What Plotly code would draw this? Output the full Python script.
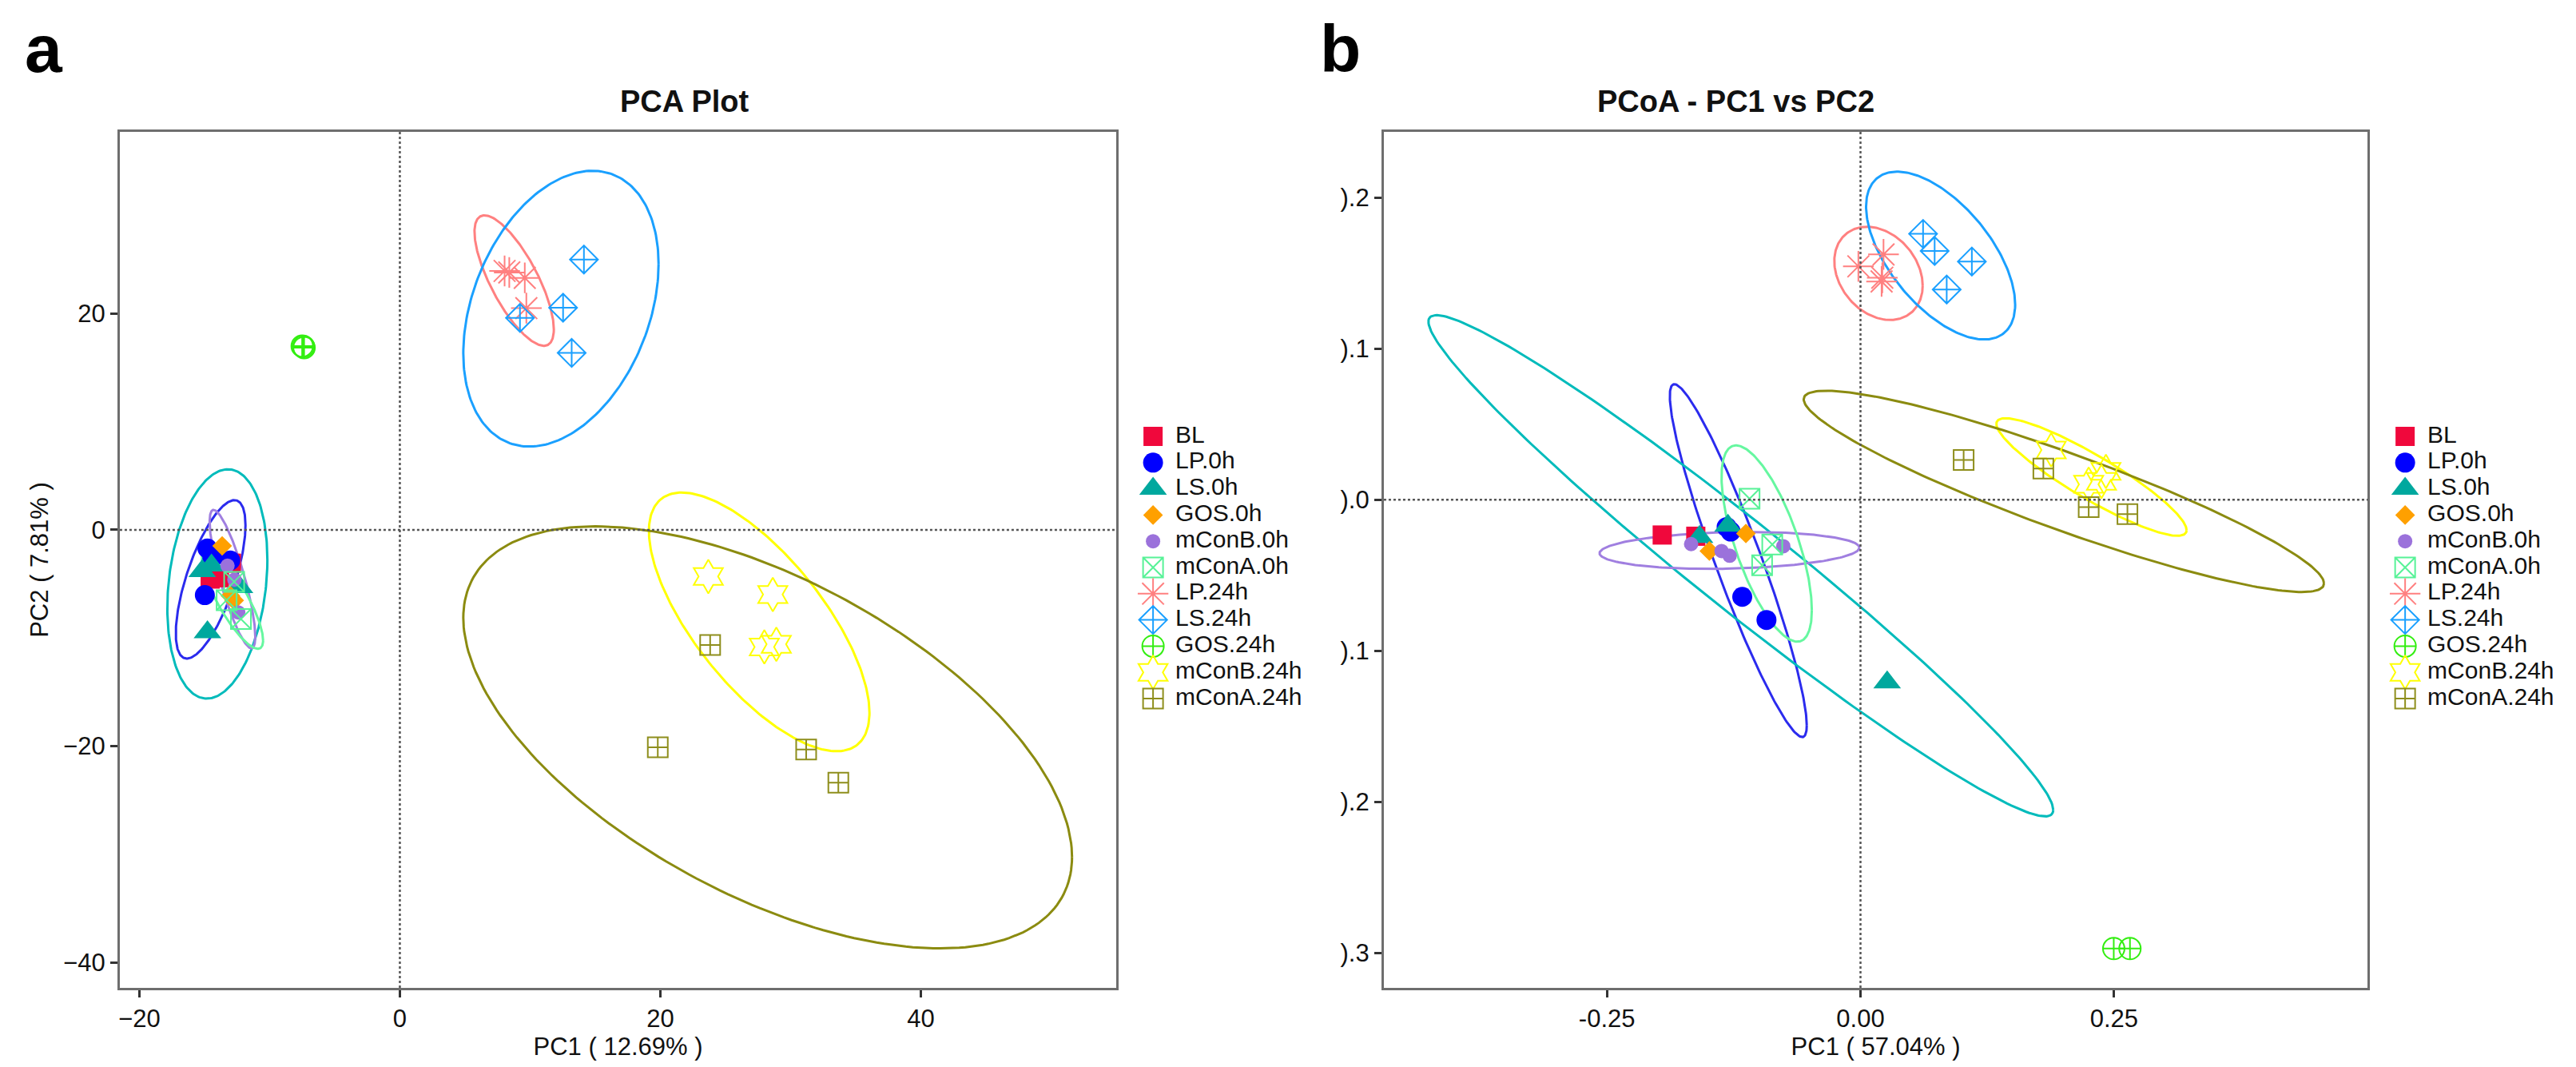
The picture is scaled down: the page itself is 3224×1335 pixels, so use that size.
import numpy as np
import plotly.graph_objects as go

groups = ["BL", "LP.0h", "LS.0h", "GOS.0h", "mConB.0h", "mConA.0h",
          "LP.24h", "LS.24h", "GOS.24h", "mConB.24h", "mConA.24h"]

colors = ["#F0083C", "#0000FF", "#00A89E", "#FFA000", "#9B72DB", "#57F297",
          "#FF8080", "#1AA0FF", "#33EE11", "#FFFF00", "#8E8E1C"]
ell_colors = ["#F0083C", "#2B2BEE", "#00BBBB", "#FFA000", "#A07FE0", "#66F7A0",
              "#FF8080", "#1AA0FF", "#33EE11", "#FFFF00", "#8B8B10"]
symbols = ["square", "circle", "triangle-up", "diamond", "circle", "square-x-open",
           "asterisk-open", "diamond-cross-open", "circle-cross-open",
           "hexagram-open", "square-cross-open"]
msizes = [24, 25, 30, 19, 18, 25, 32, 27, 27, 32, 25]

# PCA (panel a) sample scores
pca_x = {
    "BL": [-14.56, -12.93, -13.85],
    "LP.0h": [-14.77, -14.97, -13.02, -14.4],
    "LS.0h": [-14.77, -15.17, -14.46, -12.31],
    "GOS.0h": [-13.64, -12.72, -13.0],
    "mConB.0h": [-13.23, -12.41, -12.7],
    "mConA.0h": [-12.72, -12.2, -13.3],
    "LP.24h": [8.04, 8.4, 9.59, 9.71],
    "LS.24h": [14.13, 12.53, 9.22, 13.19],
    "GOS.24h": [-7.5, -7.35, -7.4],
    "mConB.24h": [23.68, 28.63, 27.98, 28.9],
    "mConA.24h": [23.82, 19.8, 31.19, 33.66],
}
pca_y = {
    "BL": [-4.55, -3.08, -4.43],
    "LP.0h": [-1.72, -6.03, -2.83, -2.6],
    "LS.0h": [-9.47, -3.81, -3.3, -5.29],
    "GOS.0h": [-1.48, -6.52, -6.1],
    "mConB.0h": [-3.32, -7.63, -4.6],
    "mConA.0h": [-4.8, -8.24, -6.5],
    "LP.24h": [23.94, 23.8, 23.3, 20.5],
    "LS.24h": [25.0, 20.54, 19.6, 16.36],
    "GOS.24h": [17.0, 16.85, 16.95],
    "mConB.24h": [-4.31, -5.98, -10.83, -10.58],
    "mConA.24h": [-10.65, -20.1, -20.3, -23.37],
}

# PCoA (panel b) sample scores
pcoa_x = {
    "BL": [-0.1955, -0.1624],
    "LP.0h": [-0.132, -0.1166, -0.0927, -0.128],
    "LS.0h": [-0.1587, -0.1307, 0.0263],
    "GOS.0h": [-0.113, -0.149],
    "mConB.0h": [-0.167, -0.137, -0.129, -0.0761],
    "mConA.0h": [-0.1094, -0.087, -0.097],
    "LP.24h": [-0.0021, 0.0227, 0.0208, 0.0215],
    "LS.24h": [0.0617, 0.0731, 0.1098, 0.085],
    "GOS.24h": [0.2497, 0.2657],
    "mConB.24h": [0.188, 0.225, 0.2376, 0.242],
    "mConA.24h": [0.1017, 0.1803, 0.225, 0.2632],
}
pcoa_y = {
    "BL": [-0.0233, -0.0241],
    "LP.0h": [-0.018, -0.0642, -0.0795, -0.021],
    "LS.0h": [-0.0245, -0.0171, -0.1208],
    "GOS.0h": [-0.0223, -0.0339],
    "mConB.0h": [-0.0293, -0.0339, -0.037, -0.0307],
    "mConA.0h": [0.0007, -0.0296, -0.0433],
    "LP.24h": [0.1545, 0.1624, 0.1445, 0.147],
    "LS.24h": [0.176, 0.1647, 0.1577, 0.1392],
    "GOS.24h": [-0.297, -0.297],
    "mConB.24h": [0.033, 0.0103, 0.0122, 0.0188],
    "mConA.24h": [0.0264, 0.0207, -0.0048, -0.0095],
}

# confidence ellipses: xmin, xmax, ymin, ymax, x at top point
pca_ell = {
    "LP.0h": [-17.2, -11.85, -11.9, 2.75, -12.7],
    "LS.0h": [-17.85, -10.17, -15.6, 5.6, -13.2],
    "mConB.0h": [-14.6, -11.1, -10.95, 1.85, -14.3],
    "mConA.0h": [-15.2, -10.5, -11.0, -1.85, -14.8],
    "LP.24h": [5.73, 11.82, 17.02, 29.08, 6.5],
    "LS.24h": [4.87, 19.86, 7.7, 33.2, 14.79],
    "mConB.24h": [19.12, 36.05, -20.47, 3.45, 21.64],
    "mConA.24h": [4.87, 51.6, -38.7, 0.32, 15.0],
}
pcoa_ell = {
    "LP.0h": [-0.188, -0.053, -0.157, 0.0765, -0.1835],
    "LS.0h": [-0.426, 0.19, -0.2095, 0.1222, -0.418],
    "mConB.0h": [-0.2573, -0.0011, -0.0457, -0.0213, -0.11],
    "mConA.0h": [-0.137, -0.048, -0.0939, 0.036, -0.1227],
    "LP.24h": [-0.0258, 0.0613, 0.119, 0.1807, 0.0063],
    "LS.24h": [0.0055, 0.1525, 0.1061, 0.2172, 0.0361],
    "mConB.24h": [0.134, 0.3215, -0.0238, 0.054, 0.143],
    "mConA.24h": [-0.056, 0.457, -0.061, 0.0722, -0.034],
}

pca_xticks = [-20, 0, 20, 40]
pca_yticks = [-40, -20, 0, 20]
pcoa_xticks = [-0.25, 0.0, 0.25]
pcoa_xlabels = ["-0.25", "0.00", "0.25"]
pcoa_yticks = [-0.3, -0.2, -0.1, 0.0, 0.1, 0.2]
pcoa_ylabels = [").3", ").2", ").1", ").0", ").1", ").2"]   # left part cut off in the source


def ellipse_path(xmin, xmax, ymin, ymax, xtop, n=241):
    cx, ax = (xmin + xmax) / 2, (xmax - xmin) / 2
    cy, ay = (ymin + ymax) / 2, (ymax - ymin) / 2
    phi = np.arccos(np.clip((xtop - cx) / ax, -1, 1))
    t = np.linspace(0, 2 * np.pi, n)
    return cx + ax * np.cos(t), cy + ay * np.cos(t - phi)


def marker(i):
    is_open = symbols[i].endswith("-open")
    return dict(symbol=symbols[i], size=msizes[i], color=colors[i],
                line=dict(color=colors[i], width=2 if is_open else 0))


W, H = 3224, 1335
FONT = "Liberation Sans, Arial, Helvetica, sans-serif"
fig = go.Figure()

panels = [("x", "y", pca_x, pca_y, pca_ell), ("x2", "y2", pcoa_x, pcoa_y, pcoa_ell)]
for xa, ya, px, py, pell in panels:
    for i, g in enumerate(groups):
        if g in pell:
            ex, ey = ellipse_path(*pell[g])
            fig.add_trace(go.Scatter(x=ex, y=ey, mode="lines", xaxis=xa, yaxis=ya,
                                     line=dict(color=ell_colors[i], width=3),
                                     showlegend=False, hoverinfo="skip"))
    for i, g in enumerate(groups):
        fig.add_trace(go.Scatter(x=px[g], y=py[g], mode="markers", name=g,
                                 xaxis=xa, yaxis=ya, marker=marker(i), showlegend=False))

# key beside each panel, drawn on its own hidden axes (x in pixels, y = group index)
idx = list(range(len(groups)))
for xa, ya, mx, tx in [("x3", "y3", 1434, 1462), ("x4", "y4", 3002, 3030)]:
    for i, g in enumerate(groups):
        fig.add_trace(go.Scatter(x=[mx], y=[i], mode="markers", xaxis=xa, yaxis=ya,
                                 marker=marker(i), showlegend=False, hoverinfo="skip"))
    fig.add_trace(go.Scatter(x=[tx] * len(groups), y=idx, text=groups, mode="text",
                             textposition="middle right", xaxis=xa, yaxis=ya,
                             textfont=dict(family=FONT, size=30, color="#111111"),
                             showlegend=False, hoverinfo="skip"))

axis_common = dict(showgrid=False, zeroline=False, showline=True, mirror=True,
                   linecolor="#6E6E6E", linewidth=3, ticks="outside", ticklen=9,
                   tickwidth=2.5, tickcolor="#333333",
                   tickfont=dict(family=FONT, size=31, color="#111111"),
                   title_font=dict(family=FONT, size=31, color="#111111"))
hidden = dict(visible=False, showgrid=False, zeroline=False)

xa_dom = [140 / W, 1388 / W]
xb_dom = [1723 / W, 2955 / W]
y_dom = [1 - 1228 / H, 1 - 157 / H]
# key rows: index 0 at 538 px from top, 32.8 px apart, inside a 500..900 px band
row0, step, top, bot = 538, 32.8, 500, 900
key_range = [(bot - row0) / step, (top - row0) / step]

fig.update_layout(
    width=W, height=H,
    margin=dict(l=0, r=0, t=0, b=0),
    plot_bgcolor="white", paper_bgcolor="white",
    font=dict(family=FONT, color="#111111"),
    showlegend=False,
    xaxis=dict(domain=xa_dom, range=[-21.5, 55.0], tickvals=pca_xticks,
               title=dict(text="PC1 ( 12.69% )", standoff=8), anchor="y", **axis_common),
    yaxis=dict(domain=y_dom, range=[-42.35, 36.8], tickvals=pca_yticks,
               title=dict(text="PC2 ( 7.81% )", standoff=10), anchor="x", **axis_common),
    xaxis2=dict(domain=xb_dom, range=[-0.47, 0.5], tickvals=pcoa_xticks,
                ticktext=pcoa_xlabels,
                title=dict(text="PC1 ( 57.04% )", standoff=8), anchor="y2", **axis_common),
    yaxis2=dict(domain=y_dom, range=[-0.323, 0.2435], tickvals=pcoa_yticks,
                ticktext=pcoa_ylabels, anchor="x2", **axis_common),
    xaxis3=dict(domain=[1400 / W, 1700 / W], range=[1400, 1700], anchor="y3", **hidden),
    yaxis3=dict(domain=[1 - bot / H, 1 - top / H], range=key_range, anchor="x3", **hidden),
    xaxis4=dict(domain=[2970 / W, 1.0], range=[2970, W], anchor="y4", **hidden),
    yaxis4=dict(domain=[1 - bot / H, 1 - top / H], range=key_range, anchor="x4", **hidden),
)

# dotted reference lines through the origin
for xa, ya in [("x", "y"), ("x2", "y2")]:
    fig.add_shape(type="line", xref=xa, yref=ya + " domain", x0=0, x1=0, y0=0, y1=1,
                  line=dict(color="#555555", width=2.5, dash="dot"))
    fig.add_shape(type="line", xref=xa + " domain", yref=ya, x0=0, x1=1, y0=0, y1=0,
                  line=dict(color="#555555", width=2.5, dash="dot"))

# panel titles and letters
for txt, xc in [("PCA Plot", sum(xa_dom) / 2), ("PCoA - PC1 vs PC2", sum(xb_dom) / 2)]:
    fig.add_annotation(text="<b>" + txt + "</b>", x=xc, y=1 - 119 / H, xref="paper",
                       yref="paper", showarrow=False, yanchor="middle",
                       font=dict(family=FONT, size=38, color="#111111"))
for txt, xc in [("a", 45 / W), ("b", 1669 / W)]:
    fig.add_annotation(text="<b>" + txt + "</b>", x=xc, y=1 - 4 / H, xref="paper",
                       yref="paper", showarrow=False, yanchor="top", xanchor="center",
                       font=dict(family=FONT, size=84, color="#000000"))

fig.write_html("out.html")
